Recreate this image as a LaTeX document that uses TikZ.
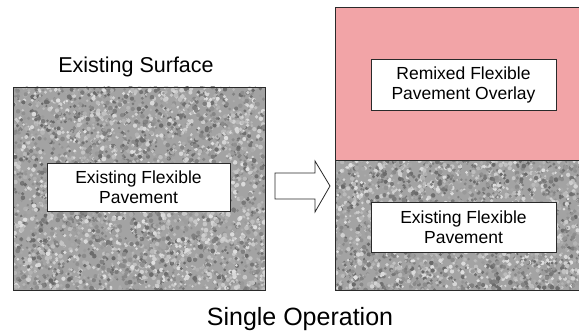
\documentclass[tikz,border=0pt]{standalone}
\usepackage{fontspec}
\setmainfont{Liberation Sans}
\definecolor{pinkfill}{HTML}{F2A4A7}
\definecolor{edge}{HTML}{2A2A2A}
\begin{document}
\begin{tikzpicture}[x=1pt,y=-1pt,
  labelbox/.style={draw=edge,fill=white,line width=0.8pt,inner sep=0pt,font=\fontsize{17.5}{20}\selectfont,align=center},
  frame/.style={draw=edge,line width=0.8pt}]
\useasboundingbox (0,0) rectangle (579,336);
\pgfmathsetseed{7}
% left textured block
\begin{scope}
\clip (13,87) rectangle (265,290);
\fill[black!36] (13,87) rectangle (265,290);
\foreach \i in {1,...,4200}{
  \pgfmathsetmacro{\px}{13+252*rnd}
  \pgfmathsetmacro{\py}{87+203*rnd}
  \pgfmathsetmacro{\g}{int(12+48*rnd)}
  \pgfmathsetmacro{\r}{1.2+1.2*rnd}
  \fill[black!\g] (\px,\py) circle (\r);
}
\end{scope}
\draw[frame] (13,87) rectangle (265,290);
% right lower textured block
\begin{scope}
\clip (335,160) rectangle (580,290);
\fill[black!36] (335,160) rectangle (580,290);
\foreach \i in {1,...,2700}{
  \pgfmathsetmacro{\px}{335+245*rnd}
  \pgfmathsetmacro{\py}{160+130*rnd}
  \pgfmathsetmacro{\g}{int(12+48*rnd)}
  \pgfmathsetmacro{\r}{1.2+1.2*rnd}
  \fill[black!\g] (\px,\py) circle (\r);
}
\end{scope}
\fill[pinkfill] (335,7) rectangle (580,160);
\draw[frame] (580,7) -- (335,7) -- (335,290) -- (580,290);
\draw[frame] (335,160) -- (580,160);
% labels
\node[font=\fontsize{21.5}{25}\selectfont] (surf) at (136,67) {Existing Surface};
\node[labelbox,minimum width=183,minimum height=48] (lp) at (138.5,187) {Existing Flexible\\Pavement};
\node[labelbox,minimum width=185,minimum height=51] (ov) at (463.5,84.5) {Remixed Flexible\\Pavement Overlay};
\node[labelbox,minimum width=185,minimum height=50] (rp) at (463.5,227) {Existing Flexible\\Pavement};
\node[font=\fontsize{25}{29}\selectfont] (op) at (300,319) {Single Operation};
% block arrow
\draw[edge,line width=0.8pt,fill=white] (275,173) -- (315,173) -- (315,161) -- (330,186) -- (315,212) -- (315,199) -- (275,199) -- cycle;
\end{tikzpicture}
\end{document}
